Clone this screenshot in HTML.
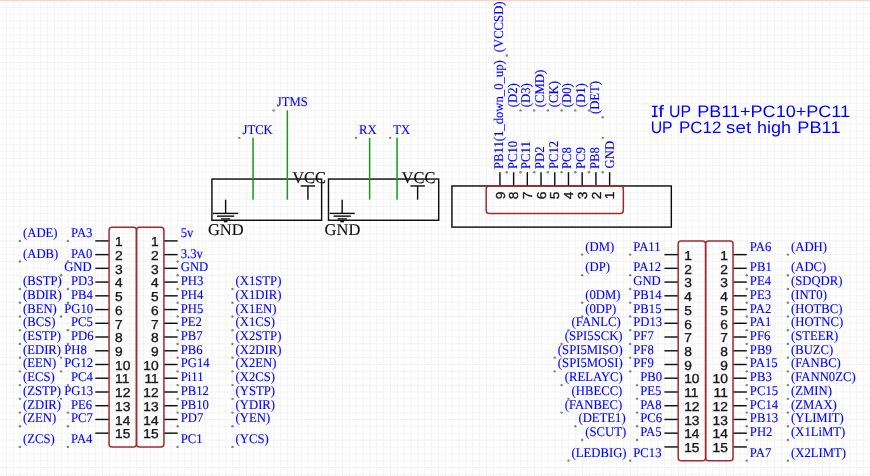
<!DOCTYPE html>
<html><head><meta charset="utf-8"><title>schematic</title>
<style>
html,body{margin:0;padding:0;background:#fff;}
body{width:870px;height:476px;overflow:hidden;}
svg{display:block;}
svg text{text-rendering:geometricPrecision;}
.lb text{font-family:"Liberation Serif",serif;font-size:12.7px;fill:#0000ff;stroke:#0000ff;stroke-width:0.12px;}
.pn text{font-family:"Liberation Sans",sans-serif;font-size:13px;fill:#1a1a1a;stroke:#1a1a1a;stroke-width:0.35px;}
.pw text{font-family:"Liberation Serif",serif;font-size:16.5px;fill:#111;stroke:#111;stroke-width:0.15px;}
.nt text{font-family:"Liberation Sans",sans-serif;font-size:16.6px;fill:#0000ff;}
</style></head><body>
<svg width="870" height="476" viewBox="0 0 870 476">
<rect x="0" y="0" width="870" height="476" fill="#ffffff"/>
<g stroke="#eeeef0" stroke-width="0.69">
<line x1="6.45" y1="0" x2="6.45" y2="476"/>
<line x1="13.31" y1="0" x2="13.31" y2="476"/>
<line x1="20.16" y1="0" x2="20.16" y2="476"/>
<line x1="27.02" y1="0" x2="27.02" y2="476"/>
<line x1="33.88" y1="0" x2="33.88" y2="476"/>
<line x1="40.74" y1="0" x2="40.74" y2="476"/>
<line x1="47.59" y1="0" x2="47.59" y2="476"/>
<line x1="54.45" y1="0" x2="54.45" y2="476"/>
<line x1="61.31" y1="0" x2="61.31" y2="476"/>
<line x1="68.16" y1="0" x2="68.16" y2="476"/>
<line x1="75.02" y1="0" x2="75.02" y2="476"/>
<line x1="81.88" y1="0" x2="81.88" y2="476"/>
<line x1="88.73" y1="0" x2="88.73" y2="476"/>
<line x1="95.59" y1="0" x2="95.59" y2="476"/>
<line x1="102.45" y1="0" x2="102.45" y2="476"/>
<line x1="109.31" y1="0" x2="109.31" y2="476"/>
<line x1="116.16" y1="0" x2="116.16" y2="476"/>
<line x1="123.02" y1="0" x2="123.02" y2="476"/>
<line x1="129.88" y1="0" x2="129.88" y2="476"/>
<line x1="136.73" y1="0" x2="136.73" y2="476"/>
<line x1="143.59" y1="0" x2="143.59" y2="476"/>
<line x1="150.45" y1="0" x2="150.45" y2="476"/>
<line x1="157.3" y1="0" x2="157.3" y2="476"/>
<line x1="164.16" y1="0" x2="164.16" y2="476"/>
<line x1="171.02" y1="0" x2="171.02" y2="476"/>
<line x1="177.88" y1="0" x2="177.88" y2="476"/>
<line x1="184.73" y1="0" x2="184.73" y2="476"/>
<line x1="191.59" y1="0" x2="191.59" y2="476"/>
<line x1="198.45" y1="0" x2="198.45" y2="476"/>
<line x1="205.3" y1="0" x2="205.3" y2="476"/>
<line x1="212.16" y1="0" x2="212.16" y2="476"/>
<line x1="219.02" y1="0" x2="219.02" y2="476"/>
<line x1="225.87" y1="0" x2="225.87" y2="476"/>
<line x1="232.73" y1="0" x2="232.73" y2="476"/>
<line x1="239.59" y1="0" x2="239.59" y2="476"/>
<line x1="246.44" y1="0" x2="246.44" y2="476"/>
<line x1="253.3" y1="0" x2="253.3" y2="476"/>
<line x1="260.16" y1="0" x2="260.16" y2="476"/>
<line x1="267.02" y1="0" x2="267.02" y2="476"/>
<line x1="273.87" y1="0" x2="273.87" y2="476"/>
<line x1="280.73" y1="0" x2="280.73" y2="476"/>
<line x1="287.59" y1="0" x2="287.59" y2="476"/>
<line x1="294.44" y1="0" x2="294.44" y2="476"/>
<line x1="301.3" y1="0" x2="301.3" y2="476"/>
<line x1="308.16" y1="0" x2="308.16" y2="476"/>
<line x1="315.01" y1="0" x2="315.01" y2="476"/>
<line x1="321.87" y1="0" x2="321.87" y2="476"/>
<line x1="328.73" y1="0" x2="328.73" y2="476"/>
<line x1="335.59" y1="0" x2="335.59" y2="476"/>
<line x1="342.44" y1="0" x2="342.44" y2="476"/>
<line x1="349.3" y1="0" x2="349.3" y2="476"/>
<line x1="356.16" y1="0" x2="356.16" y2="476"/>
<line x1="363.01" y1="0" x2="363.01" y2="476"/>
<line x1="369.87" y1="0" x2="369.87" y2="476"/>
<line x1="376.73" y1="0" x2="376.73" y2="476"/>
<line x1="383.58" y1="0" x2="383.58" y2="476"/>
<line x1="390.44" y1="0" x2="390.44" y2="476"/>
<line x1="397.3" y1="0" x2="397.3" y2="476"/>
<line x1="404.16" y1="0" x2="404.16" y2="476"/>
<line x1="411.01" y1="0" x2="411.01" y2="476"/>
<line x1="417.87" y1="0" x2="417.87" y2="476"/>
<line x1="424.73" y1="0" x2="424.73" y2="476"/>
<line x1="431.58" y1="0" x2="431.58" y2="476"/>
<line x1="438.44" y1="0" x2="438.44" y2="476"/>
<line x1="445.3" y1="0" x2="445.3" y2="476"/>
<line x1="452.16" y1="0" x2="452.16" y2="476"/>
<line x1="459.01" y1="0" x2="459.01" y2="476"/>
<line x1="465.87" y1="0" x2="465.87" y2="476"/>
<line x1="472.73" y1="0" x2="472.73" y2="476"/>
<line x1="479.58" y1="0" x2="479.58" y2="476"/>
<line x1="486.44" y1="0" x2="486.44" y2="476"/>
<line x1="493.3" y1="0" x2="493.3" y2="476"/>
<line x1="500.15" y1="0" x2="500.15" y2="476"/>
<line x1="507.01" y1="0" x2="507.01" y2="476"/>
<line x1="513.87" y1="0" x2="513.87" y2="476"/>
<line x1="520.73" y1="0" x2="520.73" y2="476"/>
<line x1="527.58" y1="0" x2="527.58" y2="476"/>
<line x1="534.44" y1="0" x2="534.44" y2="476"/>
<line x1="541.3" y1="0" x2="541.3" y2="476"/>
<line x1="548.15" y1="0" x2="548.15" y2="476"/>
<line x1="555.01" y1="0" x2="555.01" y2="476"/>
<line x1="561.87" y1="0" x2="561.87" y2="476"/>
<line x1="568.72" y1="0" x2="568.72" y2="476"/>
<line x1="575.58" y1="0" x2="575.58" y2="476"/>
<line x1="582.44" y1="0" x2="582.44" y2="476"/>
<line x1="589.3" y1="0" x2="589.3" y2="476"/>
<line x1="596.15" y1="0" x2="596.15" y2="476"/>
<line x1="603.01" y1="0" x2="603.01" y2="476"/>
<line x1="609.87" y1="0" x2="609.87" y2="476"/>
<line x1="616.72" y1="0" x2="616.72" y2="476"/>
<line x1="623.58" y1="0" x2="623.58" y2="476"/>
<line x1="630.44" y1="0" x2="630.44" y2="476"/>
<line x1="637.29" y1="0" x2="637.29" y2="476"/>
<line x1="644.15" y1="0" x2="644.15" y2="476"/>
<line x1="651.01" y1="0" x2="651.01" y2="476"/>
<line x1="657.87" y1="0" x2="657.87" y2="476"/>
<line x1="664.72" y1="0" x2="664.72" y2="476"/>
<line x1="671.58" y1="0" x2="671.58" y2="476"/>
<line x1="678.44" y1="0" x2="678.44" y2="476"/>
<line x1="685.29" y1="0" x2="685.29" y2="476"/>
<line x1="692.15" y1="0" x2="692.15" y2="476"/>
<line x1="699.01" y1="0" x2="699.01" y2="476"/>
<line x1="705.86" y1="0" x2="705.86" y2="476"/>
<line x1="712.72" y1="0" x2="712.72" y2="476"/>
<line x1="719.58" y1="0" x2="719.58" y2="476"/>
<line x1="726.44" y1="0" x2="726.44" y2="476"/>
<line x1="733.29" y1="0" x2="733.29" y2="476"/>
<line x1="740.15" y1="0" x2="740.15" y2="476"/>
<line x1="747.01" y1="0" x2="747.01" y2="476"/>
<line x1="753.86" y1="0" x2="753.86" y2="476"/>
<line x1="760.72" y1="0" x2="760.72" y2="476"/>
<line x1="767.58" y1="0" x2="767.58" y2="476"/>
<line x1="774.43" y1="0" x2="774.43" y2="476"/>
<line x1="781.29" y1="0" x2="781.29" y2="476"/>
<line x1="788.15" y1="0" x2="788.15" y2="476"/>
<line x1="795.01" y1="0" x2="795.01" y2="476"/>
<line x1="801.86" y1="0" x2="801.86" y2="476"/>
<line x1="808.72" y1="0" x2="808.72" y2="476"/>
<line x1="815.58" y1="0" x2="815.58" y2="476"/>
<line x1="822.43" y1="0" x2="822.43" y2="476"/>
<line x1="829.29" y1="0" x2="829.29" y2="476"/>
<line x1="836.15" y1="0" x2="836.15" y2="476"/>
<line x1="843" y1="0" x2="843" y2="476"/>
<line x1="849.86" y1="0" x2="849.86" y2="476"/>
<line x1="856.72" y1="0" x2="856.72" y2="476"/>
<line x1="863.58" y1="0" x2="863.58" y2="476"/>
<line x1="0" y1="7.37" x2="870" y2="7.37"/>
<line x1="0" y1="14.24" x2="870" y2="14.24"/>
<line x1="0" y1="21.1" x2="870" y2="21.1"/>
<line x1="0" y1="27.97" x2="870" y2="27.97"/>
<line x1="0" y1="34.84" x2="870" y2="34.84"/>
<line x1="0" y1="41.71" x2="870" y2="41.71"/>
<line x1="0" y1="48.58" x2="870" y2="48.58"/>
<line x1="0" y1="55.44" x2="870" y2="55.44"/>
<line x1="0" y1="62.31" x2="870" y2="62.31"/>
<line x1="0" y1="69.18" x2="870" y2="69.18"/>
<line x1="0" y1="76.05" x2="870" y2="76.05"/>
<line x1="0" y1="82.92" x2="870" y2="82.92"/>
<line x1="0" y1="89.78" x2="870" y2="89.78"/>
<line x1="0" y1="96.65" x2="870" y2="96.65"/>
<line x1="0" y1="103.52" x2="870" y2="103.52"/>
<line x1="0" y1="110.39" x2="870" y2="110.39"/>
<line x1="0" y1="117.26" x2="870" y2="117.26"/>
<line x1="0" y1="124.12" x2="870" y2="124.12"/>
<line x1="0" y1="130.99" x2="870" y2="130.99"/>
<line x1="0" y1="137.86" x2="870" y2="137.86"/>
<line x1="0" y1="144.73" x2="870" y2="144.73"/>
<line x1="0" y1="151.6" x2="870" y2="151.6"/>
<line x1="0" y1="158.46" x2="870" y2="158.46"/>
<line x1="0" y1="165.33" x2="870" y2="165.33"/>
<line x1="0" y1="172.2" x2="870" y2="172.2"/>
<line x1="0" y1="179.07" x2="870" y2="179.07"/>
<line x1="0" y1="185.94" x2="870" y2="185.94"/>
<line x1="0" y1="192.8" x2="870" y2="192.8"/>
<line x1="0" y1="199.67" x2="870" y2="199.67"/>
<line x1="0" y1="206.54" x2="870" y2="206.54"/>
<line x1="0" y1="213.41" x2="870" y2="213.41"/>
<line x1="0" y1="220.28" x2="870" y2="220.28"/>
<line x1="0" y1="227.14" x2="870" y2="227.14"/>
<line x1="0" y1="234.01" x2="870" y2="234.01"/>
<line x1="0" y1="240.88" x2="870" y2="240.88"/>
<line x1="0" y1="247.75" x2="870" y2="247.75"/>
<line x1="0" y1="254.62" x2="870" y2="254.62"/>
<line x1="0" y1="261.48" x2="870" y2="261.48"/>
<line x1="0" y1="268.35" x2="870" y2="268.35"/>
<line x1="0" y1="275.22" x2="870" y2="275.22"/>
<line x1="0" y1="282.09" x2="870" y2="282.09"/>
<line x1="0" y1="288.96" x2="870" y2="288.96"/>
<line x1="0" y1="295.82" x2="870" y2="295.82"/>
<line x1="0" y1="302.69" x2="870" y2="302.69"/>
<line x1="0" y1="309.56" x2="870" y2="309.56"/>
<line x1="0" y1="316.43" x2="870" y2="316.43"/>
<line x1="0" y1="323.3" x2="870" y2="323.3"/>
<line x1="0" y1="330.16" x2="870" y2="330.16"/>
<line x1="0" y1="337.03" x2="870" y2="337.03"/>
<line x1="0" y1="343.9" x2="870" y2="343.9"/>
<line x1="0" y1="350.77" x2="870" y2="350.77"/>
<line x1="0" y1="357.64" x2="870" y2="357.64"/>
<line x1="0" y1="364.5" x2="870" y2="364.5"/>
<line x1="0" y1="371.37" x2="870" y2="371.37"/>
<line x1="0" y1="378.24" x2="870" y2="378.24"/>
<line x1="0" y1="385.11" x2="870" y2="385.11"/>
<line x1="0" y1="391.98" x2="870" y2="391.98"/>
<line x1="0" y1="398.84" x2="870" y2="398.84"/>
<line x1="0" y1="405.71" x2="870" y2="405.71"/>
<line x1="0" y1="412.58" x2="870" y2="412.58"/>
<line x1="0" y1="419.45" x2="870" y2="419.45"/>
<line x1="0" y1="426.32" x2="870" y2="426.32"/>
<line x1="0" y1="433.18" x2="870" y2="433.18"/>
<line x1="0" y1="440.05" x2="870" y2="440.05"/>
<line x1="0" y1="446.92" x2="870" y2="446.92"/>
<line x1="0" y1="453.79" x2="870" y2="453.79"/>
<line x1="0" y1="460.66" x2="870" y2="460.66"/>
<line x1="0" y1="467.52" x2="870" y2="467.52"/>
<line x1="0" y1="474.39" x2="870" y2="474.39"/>
</g>
<rect x="0" y="0" width="870" height="1" fill="#fbd0d0"/>
<rect x="0" y="1" width="870" height="1" fill="#fff6f6"/>
<defs><filter id="soft" x="0" y="0" width="870" height="476" filterUnits="userSpaceOnUse"><feGaussianBlur stdDeviation="0.35"/></filter></defs>
<g filter="url(#soft)">
<g>
<line x1="95.34" y1="240.88" x2="109.06" y2="240.88" stroke="#0a0a0a" stroke-width="1.4" stroke-linecap="butt"/>
<line x1="163.91" y1="240.88" x2="177.62" y2="240.88" stroke="#0a0a0a" stroke-width="1.4" stroke-linecap="butt"/>
<line x1="95.34" y1="254.62" x2="109.06" y2="254.62" stroke="#0a0a0a" stroke-width="1.4" stroke-linecap="butt"/>
<line x1="163.91" y1="254.62" x2="177.62" y2="254.62" stroke="#0a0a0a" stroke-width="1.4" stroke-linecap="butt"/>
<line x1="95.34" y1="268.35" x2="109.06" y2="268.35" stroke="#0a0a0a" stroke-width="1.4" stroke-linecap="butt"/>
<line x1="163.91" y1="268.35" x2="177.62" y2="268.35" stroke="#0a0a0a" stroke-width="1.4" stroke-linecap="butt"/>
<line x1="95.34" y1="282.09" x2="109.06" y2="282.09" stroke="#0a0a0a" stroke-width="1.4" stroke-linecap="butt"/>
<line x1="163.91" y1="282.09" x2="177.62" y2="282.09" stroke="#0a0a0a" stroke-width="1.4" stroke-linecap="butt"/>
<line x1="95.34" y1="295.82" x2="109.06" y2="295.82" stroke="#0a0a0a" stroke-width="1.4" stroke-linecap="butt"/>
<line x1="163.91" y1="295.82" x2="177.62" y2="295.82" stroke="#0a0a0a" stroke-width="1.4" stroke-linecap="butt"/>
<line x1="95.34" y1="309.56" x2="109.06" y2="309.56" stroke="#0a0a0a" stroke-width="1.4" stroke-linecap="butt"/>
<line x1="163.91" y1="309.56" x2="177.62" y2="309.56" stroke="#0a0a0a" stroke-width="1.4" stroke-linecap="butt"/>
<line x1="95.34" y1="323.3" x2="109.06" y2="323.3" stroke="#0a0a0a" stroke-width="1.4" stroke-linecap="butt"/>
<line x1="163.91" y1="323.3" x2="177.62" y2="323.3" stroke="#0a0a0a" stroke-width="1.4" stroke-linecap="butt"/>
<line x1="95.34" y1="337.03" x2="109.06" y2="337.03" stroke="#0a0a0a" stroke-width="1.4" stroke-linecap="butt"/>
<line x1="163.91" y1="337.03" x2="177.62" y2="337.03" stroke="#0a0a0a" stroke-width="1.4" stroke-linecap="butt"/>
<line x1="95.34" y1="350.77" x2="109.06" y2="350.77" stroke="#0a0a0a" stroke-width="1.4" stroke-linecap="butt"/>
<line x1="163.91" y1="350.77" x2="177.62" y2="350.77" stroke="#0a0a0a" stroke-width="1.4" stroke-linecap="butt"/>
<line x1="95.34" y1="364.5" x2="109.06" y2="364.5" stroke="#0a0a0a" stroke-width="1.4" stroke-linecap="butt"/>
<line x1="163.91" y1="364.5" x2="177.62" y2="364.5" stroke="#0a0a0a" stroke-width="1.4" stroke-linecap="butt"/>
<line x1="95.34" y1="378.24" x2="109.06" y2="378.24" stroke="#0a0a0a" stroke-width="1.4" stroke-linecap="butt"/>
<line x1="163.91" y1="378.24" x2="177.62" y2="378.24" stroke="#0a0a0a" stroke-width="1.4" stroke-linecap="butt"/>
<line x1="95.34" y1="391.98" x2="109.06" y2="391.98" stroke="#0a0a0a" stroke-width="1.4" stroke-linecap="butt"/>
<line x1="163.91" y1="391.98" x2="177.62" y2="391.98" stroke="#0a0a0a" stroke-width="1.4" stroke-linecap="butt"/>
<line x1="95.34" y1="405.71" x2="109.06" y2="405.71" stroke="#0a0a0a" stroke-width="1.4" stroke-linecap="butt"/>
<line x1="163.91" y1="405.71" x2="177.62" y2="405.71" stroke="#0a0a0a" stroke-width="1.4" stroke-linecap="butt"/>
<line x1="95.34" y1="419.45" x2="109.06" y2="419.45" stroke="#0a0a0a" stroke-width="1.4" stroke-linecap="butt"/>
<line x1="163.91" y1="419.45" x2="177.62" y2="419.45" stroke="#0a0a0a" stroke-width="1.4" stroke-linecap="butt"/>
<line x1="95.34" y1="433.18" x2="109.06" y2="433.18" stroke="#0a0a0a" stroke-width="1.4" stroke-linecap="butt"/>
<line x1="163.91" y1="433.18" x2="177.62" y2="433.18" stroke="#0a0a0a" stroke-width="1.4" stroke-linecap="butt"/>
</g>
<rect x="109.06" y="227.14" width="27.43" height="219.78" rx="3" fill="none" stroke="#a32c2c" stroke-width="1.5"/>
<rect x="136.48" y="227.14" width="27.43" height="219.78" rx="3" fill="none" stroke="#a32c2c" stroke-width="1.5"/>
<g class="pn">
<text transform="translate(115.06 246.08) scale(1.06 1)">1</text>
<text transform="translate(158.71 246.08) scale(1.06 1)" text-anchor="end">1</text>
<text transform="translate(115.06 259.82) scale(1.06 1)">2</text>
<text transform="translate(158.71 259.82) scale(1.06 1)" text-anchor="end">2</text>
<text transform="translate(115.06 273.55) scale(1.06 1)">3</text>
<text transform="translate(158.71 273.55) scale(1.06 1)" text-anchor="end">3</text>
<text transform="translate(115.06 287.29) scale(1.06 1)">4</text>
<text transform="translate(158.71 287.29) scale(1.06 1)" text-anchor="end">4</text>
<text transform="translate(115.06 301.02) scale(1.06 1)">5</text>
<text transform="translate(158.71 301.02) scale(1.06 1)" text-anchor="end">5</text>
<text transform="translate(115.06 314.76) scale(1.06 1)">6</text>
<text transform="translate(158.71 314.76) scale(1.06 1)" text-anchor="end">6</text>
<text transform="translate(115.06 328.5) scale(1.06 1)">7</text>
<text transform="translate(158.71 328.5) scale(1.06 1)" text-anchor="end">7</text>
<text transform="translate(115.06 342.23) scale(1.06 1)">8</text>
<text transform="translate(158.71 342.23) scale(1.06 1)" text-anchor="end">8</text>
<text transform="translate(115.06 355.97) scale(1.06 1)">9</text>
<text transform="translate(158.71 355.97) scale(1.06 1)" text-anchor="end">9</text>
<text transform="translate(115.06 369.7) scale(1.06 1)">10</text>
<text transform="translate(158.71 369.7) scale(1.06 1)" text-anchor="end">10</text>
<text transform="translate(115.06 383.44) scale(1.06 1)">11</text>
<text transform="translate(158.71 383.44) scale(1.06 1)" text-anchor="end">11</text>
<text transform="translate(115.06 397.18) scale(1.06 1)">12</text>
<text transform="translate(158.71 397.18) scale(1.06 1)" text-anchor="end">12</text>
<text transform="translate(115.06 410.91) scale(1.06 1)">13</text>
<text transform="translate(158.71 410.91) scale(1.06 1)" text-anchor="end">13</text>
<text transform="translate(115.06 424.65) scale(1.06 1)">14</text>
<text transform="translate(158.71 424.65) scale(1.06 1)" text-anchor="end">14</text>
<text transform="translate(115.06 438.38) scale(1.06 1)">15</text>
<text transform="translate(158.71 438.38) scale(1.06 1)" text-anchor="end">15</text>
</g>
<g class="lb">
<text transform="translate(23.01 236.98) scale(1 1.05)">(ADE)</text>
<text transform="translate(71.01 236.98) scale(1 1.05)">PA3</text>
<text transform="translate(180.72 236.98) scale(1 1.05)">5v</text>
<text transform="translate(23.01 257.58) scale(1 1.05)">(ADB)</text>
<text transform="translate(71.01 257.58) scale(1 1.05)">PA0</text>
<text transform="translate(180.72 257.58) scale(1 1.05)">3.3v</text>
<text transform="translate(64.16 271.32) scale(1 1.05)">GND</text>
<text transform="translate(180.72 271.32) scale(1 1.05)">GND</text>
<text transform="translate(23.01 285.06) scale(1 1.05)">(BSTP)</text>
<text transform="translate(71.01 285.06) scale(1 1.05)">PD3</text>
<text transform="translate(180.72 285.06) scale(1 1.05)">PH3</text>
<text transform="translate(235.58 285.06) scale(1 1.05)">(X1STP)</text>
<text transform="translate(23.01 298.79) scale(1 1.05)">(BDIR)</text>
<text transform="translate(71.01 298.79) scale(1 1.05)">PB4</text>
<text transform="translate(180.72 298.79) scale(1 1.05)">PH4</text>
<text transform="translate(235.58 298.79) scale(1 1.05)">(X1DIR)</text>
<text transform="translate(23.01 312.53) scale(1 1.05)">(BEN)</text>
<text transform="translate(64.16 312.53) scale(1 1.05)">PG10</text>
<text transform="translate(180.72 312.53) scale(1 1.05)">PH5</text>
<text transform="translate(235.58 312.53) scale(1 1.05)">(X1EN)</text>
<text transform="translate(23.01 326.26) scale(1 1.05)">(BCS)</text>
<text transform="translate(71.01 326.26) scale(1 1.05)">PC5</text>
<text transform="translate(180.72 326.26) scale(1 1.05)">PE2</text>
<text transform="translate(235.58 326.26) scale(1 1.05)">(X1CS)</text>
<text transform="translate(23.01 340) scale(1 1.05)">(ESTP)</text>
<text transform="translate(71.01 340) scale(1 1.05)">PD6</text>
<text transform="translate(180.72 340) scale(1 1.05)">PB7</text>
<text transform="translate(235.58 340) scale(1 1.05)">(X2STP)</text>
<text transform="translate(23.01 353.74) scale(1 1.05)">(EDIR)</text>
<text transform="translate(64.16 353.74) scale(1 1.05)">PH8</text>
<text transform="translate(180.72 353.74) scale(1 1.05)">PB6</text>
<text transform="translate(235.58 353.74) scale(1 1.05)">(X2DIR)</text>
<text transform="translate(23.01 367.47) scale(1 1.05)">(EEN)</text>
<text transform="translate(64.16 367.47) scale(1 1.05)">PG12</text>
<text transform="translate(180.72 367.47) scale(1 1.05)">PG14</text>
<text transform="translate(235.58 367.47) scale(1 1.05)">(X2EN)</text>
<text transform="translate(23.01 381.21) scale(1 1.05)">(ECS)</text>
<text transform="translate(71.01 381.21) scale(1 1.05)">PC4</text>
<text transform="translate(180.72 381.21) scale(1 1.05)">Pi11</text>
<text transform="translate(235.58 381.21) scale(1 1.05)">(X2CS)</text>
<text transform="translate(23.01 394.94) scale(1 1.05)">(ZSTP)</text>
<text transform="translate(64.16 394.94) scale(1 1.05)">PG13</text>
<text transform="translate(180.72 394.94) scale(1 1.05)">PB12</text>
<text transform="translate(235.58 394.94) scale(1 1.05)">(YSTP)</text>
<text transform="translate(23.01 408.68) scale(1 1.05)">(ZDIR)</text>
<text transform="translate(71.01 408.68) scale(1 1.05)">PE6</text>
<text transform="translate(180.72 408.68) scale(1 1.05)">PB10</text>
<text transform="translate(235.58 408.68) scale(1 1.05)">(YDIR)</text>
<text transform="translate(23.01 422.42) scale(1 1.05)">(ZEN)</text>
<text transform="translate(71.01 422.42) scale(1 1.05)">PC7</text>
<text transform="translate(180.72 422.42) scale(1 1.05)">PD7</text>
<text transform="translate(235.58 422.42) scale(1 1.05)">(YEN)</text>
<text transform="translate(23.01 443.02) scale(1 1.05)">(ZCS)</text>
<text transform="translate(71.01 443.02) scale(1 1.05)">PA4</text>
<text transform="translate(180.72 443.02) scale(1 1.05)">PC1</text>
<text transform="translate(235.58 443.02) scale(1 1.05)">(YCS)</text>
</g>
<g>
<line x1="664.47" y1="254.62" x2="678.19" y2="254.62" stroke="#0a0a0a" stroke-width="1.4" stroke-linecap="butt"/>
<line x1="733.04" y1="254.62" x2="746.76" y2="254.62" stroke="#0a0a0a" stroke-width="1.4" stroke-linecap="butt"/>
<line x1="664.47" y1="268.35" x2="678.19" y2="268.35" stroke="#0a0a0a" stroke-width="1.4" stroke-linecap="butt"/>
<line x1="733.04" y1="268.35" x2="746.76" y2="268.35" stroke="#0a0a0a" stroke-width="1.4" stroke-linecap="butt"/>
<line x1="664.47" y1="282.09" x2="678.19" y2="282.09" stroke="#0a0a0a" stroke-width="1.4" stroke-linecap="butt"/>
<line x1="733.04" y1="282.09" x2="746.76" y2="282.09" stroke="#0a0a0a" stroke-width="1.4" stroke-linecap="butt"/>
<line x1="664.47" y1="295.82" x2="678.19" y2="295.82" stroke="#0a0a0a" stroke-width="1.4" stroke-linecap="butt"/>
<line x1="733.04" y1="295.82" x2="746.76" y2="295.82" stroke="#0a0a0a" stroke-width="1.4" stroke-linecap="butt"/>
<line x1="664.47" y1="309.56" x2="678.19" y2="309.56" stroke="#0a0a0a" stroke-width="1.4" stroke-linecap="butt"/>
<line x1="733.04" y1="309.56" x2="746.76" y2="309.56" stroke="#0a0a0a" stroke-width="1.4" stroke-linecap="butt"/>
<line x1="664.47" y1="323.3" x2="678.19" y2="323.3" stroke="#0a0a0a" stroke-width="1.4" stroke-linecap="butt"/>
<line x1="733.04" y1="323.3" x2="746.76" y2="323.3" stroke="#0a0a0a" stroke-width="1.4" stroke-linecap="butt"/>
<line x1="664.47" y1="337.03" x2="678.19" y2="337.03" stroke="#0a0a0a" stroke-width="1.4" stroke-linecap="butt"/>
<line x1="733.04" y1="337.03" x2="746.76" y2="337.03" stroke="#0a0a0a" stroke-width="1.4" stroke-linecap="butt"/>
<line x1="664.47" y1="350.77" x2="678.19" y2="350.77" stroke="#0a0a0a" stroke-width="1.4" stroke-linecap="butt"/>
<line x1="733.04" y1="350.77" x2="746.76" y2="350.77" stroke="#0a0a0a" stroke-width="1.4" stroke-linecap="butt"/>
<line x1="664.47" y1="364.5" x2="678.19" y2="364.5" stroke="#0a0a0a" stroke-width="1.4" stroke-linecap="butt"/>
<line x1="733.04" y1="364.5" x2="746.76" y2="364.5" stroke="#0a0a0a" stroke-width="1.4" stroke-linecap="butt"/>
<line x1="664.47" y1="378.24" x2="678.19" y2="378.24" stroke="#0a0a0a" stroke-width="1.4" stroke-linecap="butt"/>
<line x1="733.04" y1="378.24" x2="746.76" y2="378.24" stroke="#0a0a0a" stroke-width="1.4" stroke-linecap="butt"/>
<line x1="664.47" y1="391.98" x2="678.19" y2="391.98" stroke="#0a0a0a" stroke-width="1.4" stroke-linecap="butt"/>
<line x1="733.04" y1="391.98" x2="746.76" y2="391.98" stroke="#0a0a0a" stroke-width="1.4" stroke-linecap="butt"/>
<line x1="664.47" y1="405.71" x2="678.19" y2="405.71" stroke="#0a0a0a" stroke-width="1.4" stroke-linecap="butt"/>
<line x1="733.04" y1="405.71" x2="746.76" y2="405.71" stroke="#0a0a0a" stroke-width="1.4" stroke-linecap="butt"/>
<line x1="664.47" y1="419.45" x2="678.19" y2="419.45" stroke="#0a0a0a" stroke-width="1.4" stroke-linecap="butt"/>
<line x1="733.04" y1="419.45" x2="746.76" y2="419.45" stroke="#0a0a0a" stroke-width="1.4" stroke-linecap="butt"/>
<line x1="664.47" y1="433.18" x2="678.19" y2="433.18" stroke="#0a0a0a" stroke-width="1.4" stroke-linecap="butt"/>
<line x1="733.04" y1="433.18" x2="746.76" y2="433.18" stroke="#0a0a0a" stroke-width="1.4" stroke-linecap="butt"/>
<line x1="664.47" y1="446.92" x2="678.19" y2="446.92" stroke="#0a0a0a" stroke-width="1.4" stroke-linecap="butt"/>
<line x1="733.04" y1="446.92" x2="746.76" y2="446.92" stroke="#0a0a0a" stroke-width="1.4" stroke-linecap="butt"/>
</g>
<rect x="678.19" y="240.88" width="27.43" height="219.78" rx="3" fill="none" stroke="#a32c2c" stroke-width="1.5"/>
<rect x="705.61" y="240.88" width="27.43" height="219.78" rx="3" fill="none" stroke="#a32c2c" stroke-width="1.5"/>
<g class="pn">
<text transform="translate(684.19 259.82) scale(1.06 1)">1</text>
<text transform="translate(727.84 259.82) scale(1.06 1)" text-anchor="end">1</text>
<text transform="translate(684.19 273.55) scale(1.06 1)">2</text>
<text transform="translate(727.84 273.55) scale(1.06 1)" text-anchor="end">2</text>
<text transform="translate(684.19 287.29) scale(1.06 1)">3</text>
<text transform="translate(727.84 287.29) scale(1.06 1)" text-anchor="end">3</text>
<text transform="translate(684.19 301.02) scale(1.06 1)">4</text>
<text transform="translate(727.84 301.02) scale(1.06 1)" text-anchor="end">4</text>
<text transform="translate(684.19 314.76) scale(1.06 1)">5</text>
<text transform="translate(727.84 314.76) scale(1.06 1)" text-anchor="end">5</text>
<text transform="translate(684.19 328.5) scale(1.06 1)">6</text>
<text transform="translate(727.84 328.5) scale(1.06 1)" text-anchor="end">6</text>
<text transform="translate(684.19 342.23) scale(1.06 1)">7</text>
<text transform="translate(727.84 342.23) scale(1.06 1)" text-anchor="end">7</text>
<text transform="translate(684.19 355.97) scale(1.06 1)">8</text>
<text transform="translate(727.84 355.97) scale(1.06 1)" text-anchor="end">8</text>
<text transform="translate(684.19 369.7) scale(1.06 1)">9</text>
<text transform="translate(727.84 369.7) scale(1.06 1)" text-anchor="end">9</text>
<text transform="translate(684.19 383.44) scale(1.06 1)">10</text>
<text transform="translate(727.84 383.44) scale(1.06 1)" text-anchor="end">10</text>
<text transform="translate(684.19 397.18) scale(1.06 1)">11</text>
<text transform="translate(727.84 397.18) scale(1.06 1)" text-anchor="end">11</text>
<text transform="translate(684.19 410.91) scale(1.06 1)">12</text>
<text transform="translate(727.84 410.91) scale(1.06 1)" text-anchor="end">12</text>
<text transform="translate(684.19 424.65) scale(1.06 1)">13</text>
<text transform="translate(727.84 424.65) scale(1.06 1)" text-anchor="end">13</text>
<text transform="translate(684.19 438.38) scale(1.06 1)">14</text>
<text transform="translate(727.84 438.38) scale(1.06 1)" text-anchor="end">14</text>
<text transform="translate(684.19 452.12) scale(1.06 1)">15</text>
<text transform="translate(727.84 452.12) scale(1.06 1)" text-anchor="end">15</text>
</g>
<g class="lb">
<text transform="translate(585.29 250.72) scale(1 1.05)">(DM)</text>
<text transform="translate(633.29 250.72) scale(1 1.05)">PA11</text>
<text transform="translate(749.86 250.72) scale(1 1.05)">PA6</text>
<text transform="translate(791 250.72) scale(1 1.05)">(ADH)</text>
<text transform="translate(585.29 271.32) scale(1 1.05)">(DP)</text>
<text transform="translate(633.29 271.32) scale(1 1.05)">PA12</text>
<text transform="translate(749.86 271.32) scale(1 1.05)">PB1</text>
<text transform="translate(791 271.32) scale(1 1.05)">(ADC)</text>
<text transform="translate(633.29 285.06) scale(1 1.05)">GND</text>
<text transform="translate(749.86 285.06) scale(1 1.05)">PE4</text>
<text transform="translate(791 285.06) scale(1 1.05)">(SDQDR)</text>
<text transform="translate(585.29 298.79) scale(1 1.05)">(0DM)</text>
<text transform="translate(633.29 298.79) scale(1 1.05)">PB14</text>
<text transform="translate(749.86 298.79) scale(1 1.05)">PE3</text>
<text transform="translate(791 298.79) scale(1 1.05)">(INT0)</text>
<text transform="translate(585.29 312.53) scale(1 1.05)">(0DP)</text>
<text transform="translate(633.29 312.53) scale(1 1.05)">PB15</text>
<text transform="translate(749.86 312.53) scale(1 1.05)">PA2</text>
<text transform="translate(791 312.53) scale(1 1.05)">(HOTBC)</text>
<text transform="translate(571.57 326.26) scale(1 1.05)">(FANLC)</text>
<text transform="translate(633.29 326.26) scale(1 1.05)">PD13</text>
<text transform="translate(749.86 326.26) scale(1 1.05)">PA1</text>
<text transform="translate(791 326.26) scale(1 1.05)">(HOTNC)</text>
<text transform="translate(564.72 340) scale(1 1.05)">(SPI5SCK)</text>
<text transform="translate(633.29 340) scale(1 1.05)">PF7</text>
<text transform="translate(749.86 340) scale(1 1.05)">PF6</text>
<text transform="translate(791 340) scale(1 1.05)">(STEER)</text>
<text transform="translate(557.86 353.74) scale(1 1.05)">(SPI5MISO)</text>
<text transform="translate(633.29 353.74) scale(1 1.05)">PF8</text>
<text transform="translate(749.86 353.74) scale(1 1.05)">PB9</text>
<text transform="translate(791 353.74) scale(1 1.05)">(BUZC)</text>
<text transform="translate(557.86 367.47) scale(1 1.05)">(SPI5MOSI)</text>
<text transform="translate(633.29 367.47) scale(1 1.05)">PF9</text>
<text transform="translate(749.86 367.47) scale(1 1.05)">PA15</text>
<text transform="translate(791 367.47) scale(1 1.05)">(FANBC)</text>
<text transform="translate(564.72 381.21) scale(1 1.05)">(RELAYC)</text>
<text transform="translate(640.14 381.21) scale(1 1.05)">PB0</text>
<text transform="translate(749.86 381.21) scale(1 1.05)">PB3</text>
<text transform="translate(791 381.21) scale(1 1.05)">(FANN0ZC)</text>
<text transform="translate(571.57 394.94) scale(1 1.05)">(HBECC)</text>
<text transform="translate(640.14 394.94) scale(1 1.05)">PE5</text>
<text transform="translate(749.86 394.94) scale(1 1.05)">PC15</text>
<text transform="translate(791 394.94) scale(1 1.05)">(ZMIN)</text>
<text transform="translate(564.72 408.68) scale(1 1.05)">(FANBEC)</text>
<text transform="translate(640.14 408.68) scale(1 1.05)">PA8</text>
<text transform="translate(749.86 408.68) scale(1 1.05)">PC14</text>
<text transform="translate(791 408.68) scale(1 1.05)">(ZMAX)</text>
<text transform="translate(578.43 422.42) scale(1 1.05)">(DETE1)</text>
<text transform="translate(640.14 422.42) scale(1 1.05)">PC6</text>
<text transform="translate(749.86 422.42) scale(1 1.05)">PB13</text>
<text transform="translate(791 422.42) scale(1 1.05)">(YLIMIT)</text>
<text transform="translate(585.29 436.15) scale(1 1.05)">(SCUT)</text>
<text transform="translate(640.14 436.15) scale(1 1.05)">PA5</text>
<text transform="translate(749.86 436.15) scale(1 1.05)">PH2</text>
<text transform="translate(791 436.15) scale(1 1.05)">(X1LiMT)</text>
<text transform="translate(571.57 456.76) scale(1 1.05)">(LEDBIG)</text>
<text transform="translate(633.29 456.76) scale(1 1.05)">PC13</text>
<text transform="translate(749.86 456.76) scale(1 1.05)">PA7</text>
<text transform="translate(791 456.76) scale(1 1.05)">(X2LIMT)</text>
</g>
<rect x="211.91" y="179.07" width="109.71" height="41.21" rx="0" fill="none" stroke="#0a0a0a" stroke-width="1.4"/>
<rect x="328.48" y="179.07" width="110.21" height="41.21" rx="0" fill="none" stroke="#0a0a0a" stroke-width="1.4"/>
<line x1="225.62" y1="199.67" x2="225.62" y2="213.41" stroke="#0a0a0a" stroke-width="1.4" stroke-linecap="butt"/>
<line x1="213.02" y1="213.41" x2="238.22" y2="213.41" stroke="#0a0a0a" stroke-width="1.4" stroke-linecap="butt"/>
<line x1="217.02" y1="216.16" x2="234.22" y2="216.16" stroke="#0a0a0a" stroke-width="1.4" stroke-linecap="butt"/>
<line x1="221.02" y1="218.91" x2="230.22" y2="218.91" stroke="#0a0a0a" stroke-width="1.4" stroke-linecap="butt"/>
<line x1="223.82" y1="221.61" x2="227.42" y2="221.61" stroke="#0a0a0a" stroke-width="1.4" stroke-linecap="butt"/>
<line x1="342.19" y1="199.67" x2="342.19" y2="213.41" stroke="#0a0a0a" stroke-width="1.4" stroke-linecap="butt"/>
<line x1="329.59" y1="213.41" x2="354.79" y2="213.41" stroke="#0a0a0a" stroke-width="1.4" stroke-linecap="butt"/>
<line x1="333.59" y1="216.16" x2="350.79" y2="216.16" stroke="#0a0a0a" stroke-width="1.4" stroke-linecap="butt"/>
<line x1="337.59" y1="218.91" x2="346.79" y2="218.91" stroke="#0a0a0a" stroke-width="1.4" stroke-linecap="butt"/>
<line x1="340.39" y1="221.61" x2="343.99" y2="221.61" stroke="#0a0a0a" stroke-width="1.4" stroke-linecap="butt"/>
<line x1="307.91" y1="199.67" x2="307.91" y2="185.94" stroke="#0a0a0a" stroke-width="1.4" stroke-linecap="butt"/>
<line x1="300.71" y1="185.94" x2="315.11" y2="185.94" stroke="#0a0a0a" stroke-width="1.4" stroke-linecap="butt"/>
<line x1="417.62" y1="199.67" x2="417.62" y2="185.94" stroke="#0a0a0a" stroke-width="1.4" stroke-linecap="butt"/>
<line x1="410.42" y1="185.94" x2="424.82" y2="185.94" stroke="#0a0a0a" stroke-width="1.4" stroke-linecap="butt"/>
<line x1="253.05" y1="137.86" x2="253.05" y2="199.67" stroke="#1a961a" stroke-width="1.5" stroke-linecap="butt"/>
<line x1="287.34" y1="110.39" x2="287.34" y2="199.67" stroke="#1a961a" stroke-width="1.5" stroke-linecap="butt"/>
<line x1="369.62" y1="137.86" x2="369.62" y2="199.67" stroke="#1a961a" stroke-width="1.5" stroke-linecap="butt"/>
<line x1="397.05" y1="137.86" x2="397.05" y2="199.67" stroke="#1a961a" stroke-width="1.5" stroke-linecap="butt"/>
<g class="pw">
<text x="292.2" y="182.6">VCC</text>
<text x="401.5" y="182.6">VCC</text>
<text x="207.9" y="234.5">GND</text>
<text x="324.6" y="234.5">GND</text>
</g>
<g class="lb">
<text transform="translate(242.44 133.96) scale(1 1.05)">JTCK</text>
<text transform="translate(276.72 106.49) scale(1 1.05)">JTMS</text>
<text transform="translate(359.01 133.96) scale(1 1.05)">RX</text>
<text transform="translate(393.29 133.96) scale(1 1.05)">TX</text>
</g>
<rect x="451.91" y="185.94" width="219.42" height="41.21" rx="0" fill="none" stroke="#0a0a0a" stroke-width="1.4"/>
<line x1="499.9" y1="172.2" x2="499.9" y2="185.94" stroke="#0a0a0a" stroke-width="1.4" stroke-linecap="butt"/>
<line x1="513.62" y1="172.2" x2="513.62" y2="185.94" stroke="#0a0a0a" stroke-width="1.4" stroke-linecap="butt"/>
<line x1="527.33" y1="172.2" x2="527.33" y2="185.94" stroke="#0a0a0a" stroke-width="1.4" stroke-linecap="butt"/>
<line x1="541.05" y1="172.2" x2="541.05" y2="185.94" stroke="#0a0a0a" stroke-width="1.4" stroke-linecap="butt"/>
<line x1="554.76" y1="172.2" x2="554.76" y2="185.94" stroke="#0a0a0a" stroke-width="1.4" stroke-linecap="butt"/>
<line x1="568.47" y1="172.2" x2="568.47" y2="185.94" stroke="#0a0a0a" stroke-width="1.4" stroke-linecap="butt"/>
<line x1="582.19" y1="172.2" x2="582.19" y2="185.94" stroke="#0a0a0a" stroke-width="1.4" stroke-linecap="butt"/>
<line x1="595.9" y1="172.2" x2="595.9" y2="185.94" stroke="#0a0a0a" stroke-width="1.4" stroke-linecap="butt"/>
<line x1="609.62" y1="172.2" x2="609.62" y2="185.94" stroke="#0a0a0a" stroke-width="1.4" stroke-linecap="butt"/>
<rect x="486.19" y="185.94" width="137.14" height="27.47" rx="3" fill="none" stroke="#a32c2c" stroke-width="1.5"/>
<g class="pn">
<text transform="translate(504.6 191.54) rotate(-90) scale(1.06 1)" text-anchor="end">9</text>
<text transform="translate(518.32 191.54) rotate(-90) scale(1.06 1)" text-anchor="end">8</text>
<text transform="translate(532.03 191.54) rotate(-90) scale(1.06 1)" text-anchor="end">7</text>
<text transform="translate(545.75 191.54) rotate(-90) scale(1.06 1)" text-anchor="end">6</text>
<text transform="translate(559.46 191.54) rotate(-90) scale(1.06 1)" text-anchor="end">5</text>
<text transform="translate(573.17 191.54) rotate(-90) scale(1.06 1)" text-anchor="end">4</text>
<text transform="translate(586.89 191.54) rotate(-90) scale(1.06 1)" text-anchor="end">3</text>
<text transform="translate(600.6 191.54) rotate(-90) scale(1.06 1)" text-anchor="end">2</text>
<text transform="translate(614.32 191.54) rotate(-90) scale(1.06 1)" text-anchor="end">1</text>
</g>
<g class="lb">
<text transform="translate(502.86 169) rotate(-90) scale(1 1.05)">PB11(1_down_0_up)</text>
<text transform="translate(516.58 169) rotate(-90) scale(1 1.05)">PC10</text>
<text transform="translate(530.29 169) rotate(-90) scale(1 1.05)">PC11</text>
<text transform="translate(544 169) rotate(-90) scale(1 1.05)">PD2</text>
<text transform="translate(557.72 169) rotate(-90) scale(1 1.05)">PC12</text>
<text transform="translate(571.43 169) rotate(-90) scale(1 1.05)">PC8</text>
<text transform="translate(585.15 169) rotate(-90) scale(1 1.05)">PC9</text>
<text transform="translate(598.86 169) rotate(-90) scale(1 1.05)">PB8</text>
<text transform="translate(614.3 168.4) rotate(-90) scale(1 1.05)">GND</text>
<text transform="translate(502.86 52.24) rotate(-90) scale(1 1.05)">(VCCSD)</text>
<text transform="translate(516.58 107.19) rotate(-90) scale(1 1.05)">(D2)</text>
<text transform="translate(530.29 107.19) rotate(-90) scale(1 1.05)">(D3)</text>
<text transform="translate(544 107.19) rotate(-90) scale(1 1.05)">(CMD)</text>
<text transform="translate(557.72 107.19) rotate(-90) scale(1 1.05)">(CK)</text>
<text transform="translate(571.43 107.19) rotate(-90) scale(1 1.05)">(D0)</text>
<text transform="translate(585.15 107.19) rotate(-90) scale(1 1.05)">(D1)</text>
<text transform="translate(598.86 114.06) rotate(-90) scale(1 1.05)">(DET)</text>
</g>
<g class="nt">
<path d="M652 105.7H657.6V107H655.6V115.6H657.6V116.9H652V115.6H654V107H652Z" fill="#0000ff"/>
<text x="658.3" y="116.9" textLength="5.7" lengthAdjust="spacingAndGlyphs">f</text>
<text x="669" y="116.9" textLength="22.06" lengthAdjust="spacingAndGlyphs">UP</text>
<text x="697.15" y="116.9" textLength="152.99" lengthAdjust="spacingAndGlyphs">PB11+PC10+PC11</text>
<text x="650.64" y="133.4" textLength="21.97" lengthAdjust="spacingAndGlyphs">UP</text>
<text x="678.97" y="133.4" textLength="42.43" lengthAdjust="spacingAndGlyphs">PC12</text>
<text x="726.12" y="133.4" textLength="25" lengthAdjust="spacingAndGlyphs">set</text>
<text x="757.01" y="133.4" textLength="34.1" lengthAdjust="spacingAndGlyphs">high</text>
<text x="797.37" y="133.4" textLength="43.15" lengthAdjust="spacingAndGlyphs">PB11</text>
</g>
<g fill="#808080">
<circle cx="19.91" cy="240.88" r="1.2"/>
<circle cx="67.91" cy="240.88" r="1.2"/>
<circle cx="19.91" cy="261.48" r="1.2"/>
<circle cx="67.91" cy="261.48" r="1.2"/>
<circle cx="177.62" cy="261.48" r="1.2"/>
<circle cx="61.06" cy="275.22" r="1.2"/>
<circle cx="177.62" cy="275.22" r="1.2"/>
<circle cx="19.91" cy="288.96" r="1.2"/>
<circle cx="67.91" cy="288.96" r="1.2"/>
<circle cx="177.62" cy="288.96" r="1.2"/>
<circle cx="232.48" cy="288.96" r="1.2"/>
<circle cx="19.91" cy="302.69" r="1.2"/>
<circle cx="67.91" cy="302.69" r="1.2"/>
<circle cx="177.62" cy="302.69" r="1.2"/>
<circle cx="232.48" cy="302.69" r="1.2"/>
<circle cx="19.91" cy="316.43" r="1.2"/>
<circle cx="61.06" cy="316.43" r="1.2"/>
<circle cx="177.62" cy="316.43" r="1.2"/>
<circle cx="232.48" cy="316.43" r="1.2"/>
<circle cx="19.91" cy="330.16" r="1.2"/>
<circle cx="67.91" cy="330.16" r="1.2"/>
<circle cx="177.62" cy="330.16" r="1.2"/>
<circle cx="232.48" cy="330.16" r="1.2"/>
<circle cx="19.91" cy="343.9" r="1.2"/>
<circle cx="67.91" cy="343.9" r="1.2"/>
<circle cx="177.62" cy="343.9" r="1.2"/>
<circle cx="232.48" cy="343.9" r="1.2"/>
<circle cx="19.91" cy="357.64" r="1.2"/>
<circle cx="61.06" cy="357.64" r="1.2"/>
<circle cx="177.62" cy="357.64" r="1.2"/>
<circle cx="232.48" cy="357.64" r="1.2"/>
<circle cx="19.91" cy="371.37" r="1.2"/>
<circle cx="61.06" cy="371.37" r="1.2"/>
<circle cx="177.62" cy="371.37" r="1.2"/>
<circle cx="232.48" cy="371.37" r="1.2"/>
<circle cx="19.91" cy="385.11" r="1.2"/>
<circle cx="67.91" cy="385.11" r="1.2"/>
<circle cx="177.62" cy="385.11" r="1.2"/>
<circle cx="232.48" cy="385.11" r="1.2"/>
<circle cx="19.91" cy="398.84" r="1.2"/>
<circle cx="61.06" cy="398.84" r="1.2"/>
<circle cx="177.62" cy="398.84" r="1.2"/>
<circle cx="232.48" cy="398.84" r="1.2"/>
<circle cx="19.91" cy="412.58" r="1.2"/>
<circle cx="67.91" cy="412.58" r="1.2"/>
<circle cx="177.62" cy="412.58" r="1.2"/>
<circle cx="232.48" cy="412.58" r="1.2"/>
<circle cx="19.91" cy="426.32" r="1.2"/>
<circle cx="67.91" cy="426.32" r="1.2"/>
<circle cx="177.62" cy="426.32" r="1.2"/>
<circle cx="232.48" cy="426.32" r="1.2"/>
<circle cx="19.91" cy="446.92" r="1.2"/>
<circle cx="67.91" cy="446.92" r="1.2"/>
<circle cx="177.62" cy="446.92" r="1.2"/>
<circle cx="232.48" cy="446.92" r="1.2"/>
<circle cx="582.19" cy="254.62" r="1.2"/>
<circle cx="630.19" cy="254.62" r="1.2"/>
<circle cx="787.9" cy="254.62" r="1.2"/>
<circle cx="582.19" cy="275.22" r="1.2"/>
<circle cx="630.19" cy="275.22" r="1.2"/>
<circle cx="746.76" cy="275.22" r="1.2"/>
<circle cx="787.9" cy="275.22" r="1.2"/>
<circle cx="630.19" cy="288.96" r="1.2"/>
<circle cx="746.76" cy="288.96" r="1.2"/>
<circle cx="787.9" cy="288.96" r="1.2"/>
<circle cx="582.19" cy="302.69" r="1.2"/>
<circle cx="630.19" cy="302.69" r="1.2"/>
<circle cx="746.76" cy="302.69" r="1.2"/>
<circle cx="787.9" cy="302.69" r="1.2"/>
<circle cx="582.19" cy="316.43" r="1.2"/>
<circle cx="630.19" cy="316.43" r="1.2"/>
<circle cx="746.76" cy="316.43" r="1.2"/>
<circle cx="787.9" cy="316.43" r="1.2"/>
<circle cx="568.47" cy="330.16" r="1.2"/>
<circle cx="630.19" cy="330.16" r="1.2"/>
<circle cx="746.76" cy="330.16" r="1.2"/>
<circle cx="787.9" cy="330.16" r="1.2"/>
<circle cx="561.62" cy="343.9" r="1.2"/>
<circle cx="630.19" cy="343.9" r="1.2"/>
<circle cx="746.76" cy="343.9" r="1.2"/>
<circle cx="787.9" cy="343.9" r="1.2"/>
<circle cx="554.76" cy="357.64" r="1.2"/>
<circle cx="630.19" cy="357.64" r="1.2"/>
<circle cx="746.76" cy="357.64" r="1.2"/>
<circle cx="787.9" cy="357.64" r="1.2"/>
<circle cx="554.76" cy="371.37" r="1.2"/>
<circle cx="630.19" cy="371.37" r="1.2"/>
<circle cx="746.76" cy="371.37" r="1.2"/>
<circle cx="787.9" cy="371.37" r="1.2"/>
<circle cx="561.62" cy="385.11" r="1.2"/>
<circle cx="637.04" cy="385.11" r="1.2"/>
<circle cx="746.76" cy="385.11" r="1.2"/>
<circle cx="787.9" cy="385.11" r="1.2"/>
<circle cx="568.47" cy="398.84" r="1.2"/>
<circle cx="637.04" cy="398.84" r="1.2"/>
<circle cx="746.76" cy="398.84" r="1.2"/>
<circle cx="787.9" cy="398.84" r="1.2"/>
<circle cx="561.62" cy="412.58" r="1.2"/>
<circle cx="637.04" cy="412.58" r="1.2"/>
<circle cx="746.76" cy="412.58" r="1.2"/>
<circle cx="787.9" cy="412.58" r="1.2"/>
<circle cx="575.33" cy="426.32" r="1.2"/>
<circle cx="637.04" cy="426.32" r="1.2"/>
<circle cx="746.76" cy="426.32" r="1.2"/>
<circle cx="787.9" cy="426.32" r="1.2"/>
<circle cx="582.19" cy="440.05" r="1.2"/>
<circle cx="637.04" cy="440.05" r="1.2"/>
<circle cx="746.76" cy="440.05" r="1.2"/>
<circle cx="787.9" cy="440.05" r="1.2"/>
<circle cx="568.47" cy="460.66" r="1.2"/>
<circle cx="630.19" cy="460.66" r="1.2"/>
<circle cx="746.76" cy="460.66" r="1.2"/>
<circle cx="787.9" cy="460.66" r="1.2"/>
<circle cx="239.34" cy="137.86" r="1.2"/>
<circle cx="273.62" cy="110.39" r="1.2"/>
<circle cx="355.91" cy="137.86" r="1.2"/>
<circle cx="390.19" cy="137.86" r="1.2"/>
<circle cx="506.76" cy="172.2" r="1.2"/>
<circle cx="520.48" cy="172.2" r="1.2"/>
<circle cx="534.19" cy="172.2" r="1.2"/>
<circle cx="547.9" cy="172.2" r="1.2"/>
<circle cx="561.62" cy="172.2" r="1.2"/>
<circle cx="575.33" cy="172.2" r="1.2"/>
<circle cx="589.05" cy="172.2" r="1.2"/>
<circle cx="602.76" cy="172.2" r="1.2"/>
<circle cx="602.76" cy="137.86" r="1.2"/>
<circle cx="506.76" cy="55.44" r="1.2"/>
<circle cx="520.48" cy="110.39" r="1.2"/>
<circle cx="534.19" cy="110.39" r="1.2"/>
<circle cx="547.9" cy="110.39" r="1.2"/>
<circle cx="561.62" cy="110.39" r="1.2"/>
<circle cx="575.33" cy="110.39" r="1.2"/>
<circle cx="589.05" cy="110.39" r="1.2"/>
<circle cx="602.76" cy="117.26" r="1.2"/>
</g>
</g>
</svg></body></html>
